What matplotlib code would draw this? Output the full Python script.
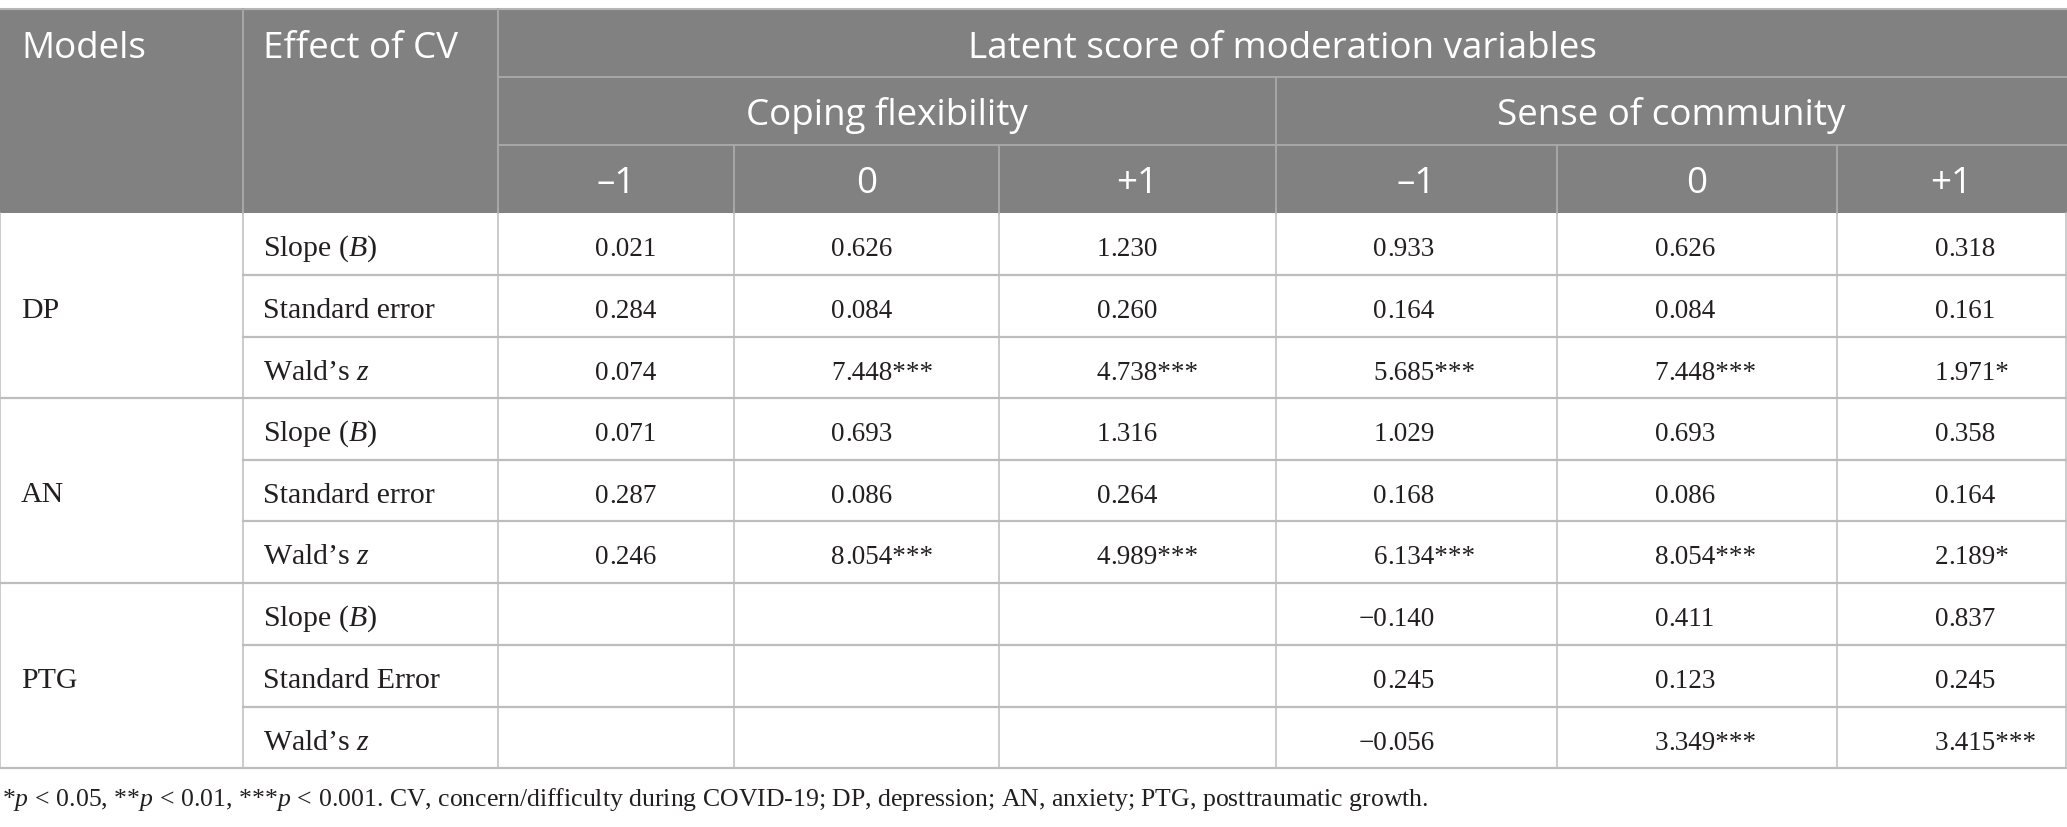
import matplotlib
matplotlib.use("Agg")
import matplotlib.pyplot as plt
from matplotlib.patches import Rectangle

plt.rcParams['mathtext.fontset'] = 'custom'
plt.rcParams['mathtext.rm'] = 'Liberation Serif'
plt.rcParams['mathtext.it'] = 'Liberation Serif:italic'

# ---------------- data ----------------
models = ["DP", "AN", "PTG"]
effect_labels = ["Slope ($\\mathit{B}$)", "Standard error", "Wald\u2019s $\\mathit{z}$",
                 "Slope ($\\mathit{B}$)", "Standard error", "Wald\u2019s $\\mathit{z}$",
                 "Slope ($\\mathit{B}$)", "Standard Error", "Wald\u2019s $\\mathit{z}$"]
top_header = "Latent score of moderation variables"
group_headers = ["Coping flexibility", "Sense of community"]
level_labels = ["\u20131", "0", "+1", "\u20131", "0", "+1"]
col_headers = ["Models", "Effect of CV"]

cf_minus1 = ["0.021", "0.284", "0.074", "0.071", "0.287", "0.246", "", "", ""]
cf_zero   = ["0.626", "0.084", "7.448***", "0.693", "0.086", "8.054***", "", "", ""]
cf_plus1  = ["1.230", "0.260", "4.738***", "1.316", "0.264", "4.989***", "", "", ""]
sc_minus1 = ["0.933", "0.164", "5.685***", "1.029", "0.168", "6.134***", "\u22120.140", "0.245", "\u22120.056"]
sc_zero   = ["0.626", "0.084", "7.448***", "0.693", "0.086", "8.054***", "0.411", "0.123", "3.349***"]
sc_plus1  = ["0.318", "0.161", "1.971*", "0.358", "0.164", "2.189*", "0.837", "0.245", "3.415***"]
value_cols = [cf_minus1, cf_zero, cf_plus1, sc_minus1, sc_zero, sc_plus1]

footnote = ("*$\\mathit{p}\\,<\\,$0.05, **$\\mathit{p}\\,<\\,$0.01, ***$\\mathit{p}\\,<\\,$0.001. "
            "CV, concern/difficulty during COVID-19; DP, depression; AN, anxiety; PTG, posttraumatic growth.")

# ---------------- layout (pixels) ----------------
W, H = 2067, 827
col_x = [0, 243, 498, 734, 999, 1276, 1557, 1837, 2066]
hdr_y = [9, 77, 145, 213]
row_y = [213, 275, 337, 398, 460, 521, 583, 645, 707, 768]

HDR_BG = "#808180"
HDR_LINE = "#a7a8a7"
BODY_LINE = "#bdbdbd"
TXT = "#231f20"
SANS = "Open Sans"
SERIF = "Liberation Serif"
HFS = 26.5
LFS = 21.5
VFS = 19.5
FFS = 18.5

fig = plt.figure(figsize=(W / 100, H / 100), dpi=100)
ax = fig.add_axes([0, 0, 1, 1])
ax.set_xlim(0, W)
ax.set_ylim(H, 0)
ax.axis("off")

# header background
ax.add_patch(Rectangle((0, hdr_y[0]), W, hdr_y[3] - hdr_y[0], facecolor=HDR_BG, edgecolor="none", zorder=0))
ax.plot([0, W], [hdr_y[0], hdr_y[0]], color="#b5b5b5", lw=1.5, zorder=1)

# header lines
for x in [col_x[1], col_x[2]]:
    ax.plot([x, x], [hdr_y[0], hdr_y[3]], color=HDR_LINE, lw=1.4, zorder=1)
for y in [hdr_y[1], hdr_y[2]]:
    ax.plot([col_x[2], W], [y, y], color=HDR_LINE, lw=1.4, zorder=1)
ax.plot([col_x[5], col_x[5]], [hdr_y[1], hdr_y[3]], color=HDR_LINE, lw=1.4, zorder=1)
for x in [col_x[3], col_x[4], col_x[6], col_x[7]]:
    ax.plot([x, x], [hdr_y[2], hdr_y[3]], color=HDR_LINE, lw=1.4, zorder=1)

# header text
ax.text(col_x[0] + 21, hdr_y[0] + 49, col_headers[0], fontsize=HFS, family=SANS, color="white", va="baseline", ha="left")
ax.text(col_x[1] + 20, hdr_y[0] + 49, col_headers[1], fontsize=HFS, family=SANS, color="white", va="baseline", ha="left")
ax.text((col_x[2] + W) / 2, hdr_y[0] + 49, top_header, fontsize=HFS, family=SANS, color="white", va="baseline", ha="center")
ax.text((col_x[2] + col_x[5]) / 2, hdr_y[1] + 48, group_headers[0], fontsize=HFS, family=SANS, color="white", va="baseline", ha="center")
ax.text((col_x[5] + W) / 2, hdr_y[1] + 48, group_headers[1], fontsize=HFS, family=SANS, color="white", va="baseline", ha="center")
for j, lab in enumerate(level_labels):
    cx = (col_x[2 + j] + col_x[3 + j]) / 2
    ax.text(cx, hdr_y[2] + 48, lab, fontsize=HFS, family=SANS, color="white", va="baseline", ha="center")

# body lines
for i, y in enumerate(row_y[1:], start=1):
    if i % 3 == 0:
        ax.plot([0, W], [y, y], color=BODY_LINE, lw=1.6, zorder=1)
    else:
        ax.plot([col_x[1], W], [y, y], color=BODY_LINE, lw=1.6, zorder=1)
for x in col_x:
    ax.plot([x, x], [row_y[0], row_y[-1]], color=BODY_LINE, lw=1.1, zorder=1)

# model labels
for g, m in enumerate(models):
    yc = (row_y[3 * g] + row_y[3 * g + 3]) / 2
    ax.text(col_x[0] + 21, yc + 12, m, fontsize=LFS, family=SERIF, color=TXT, va="baseline", ha="left")

# effect labels and values
for i in range(9):
    yb = row_y[i] + 43
    ax.text(col_x[1] + 20, yb, effect_labels[i], fontsize=LFS, family=SERIF, color=TXT, va="baseline", ha="left")
    for j, col in enumerate(value_cols):
        s = col[i]
        if not s:
            continue
        xdec = col_x[2 + j] + 111
        ip, rest = s.split(".", 1)
        ax.text(xdec, yb, ip, fontsize=VFS, family=SERIF, color=TXT, va="baseline", ha="right")
        ax.text(xdec, yb, "." + rest, fontsize=VFS, family=SERIF, color=TXT, va="baseline", ha="left")

# footnote
ax.text(2, 806, footnote, fontsize=FFS, family=SERIF, color=TXT, va="baseline", ha="left")

fig.savefig("out.png", dpi=100)
